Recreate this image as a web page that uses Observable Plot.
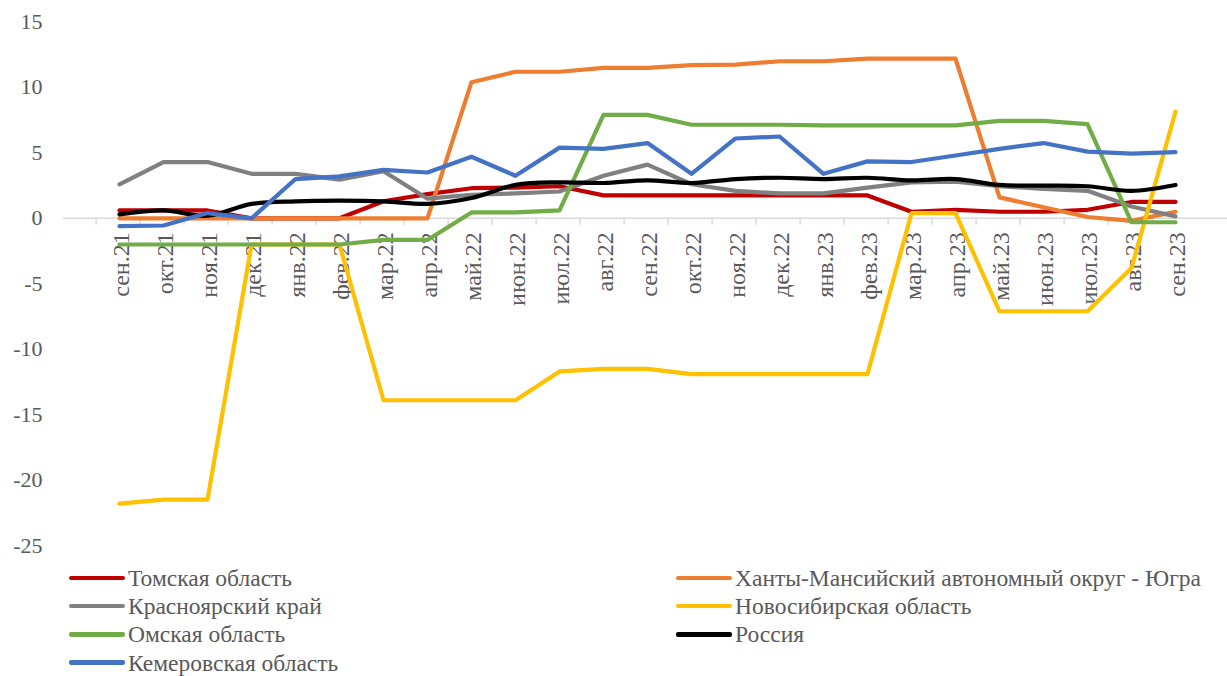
<!DOCTYPE html>
<html>
<head>
<meta charset="utf-8">
<script src="https://cdn.jsdelivr.net/npm/d3@7"></script>
<script src="https://cdn.jsdelivr.net/npm/@observablehq/plot@0.6"></script>
<style>
  html, body { margin: 0; padding: 0; background: #fff; }
  body { font-family: "Liberation Serif", "Times New Roman", serif; width: 1227px; height: 676px; overflow: hidden; }
  #legend { position: relative; height: 116px; color: #595959; font-size: 23.5px; line-height: 24px; }
  .item { position: absolute; display: flex; align-items: center; height: 26px; white-space: nowrap; }
  .sw { width: 56px; height: 4.5px; border-radius: 2px; margin-right: 3px; flex: none; }
</style>
</head>
<body>
<div id="chart"></div>
<div id="legend"></div>
<script>
const months = ["сен.21","окт.21","ноя.21","дек.21","янв.22","фев.22","мар.22","апр.22","май.22","июн.22","июл.22","авг.22","сен.22","окт.22","ноя.22","дек.22","янв.23","фев.23","мар.23","апр.23","май.23","июн.23","июл.23","авг.23","сен.23"];

const tomsk      = [0.6, 0.6, 0.6, 0.0, 0.0, 0.0, 1.3, 1.85, 2.3, 2.35, 2.45, 1.75, 1.75, 1.75, 1.75, 1.75, 1.75, 1.75, 0.5, 0.65, 0.5, 0.5, 0.65, 1.25, 1.25];
const khmao      = [0.0, 0.0, 0.0, 0.0, 0.0, 0.0, 0.0, 0.0, 10.4, 11.2, 11.2, 11.5, 11.5, 11.7, 11.75, 12.0, 12.0, 12.2, 12.2, 12.2, 1.6, 0.85, 0.1, -0.2, 0.5];
const krasnoyarsk= [2.6, 4.3, 4.3, 3.4, 3.4, 2.95, 3.6, 1.5, 1.8, 1.9, 2.05, 3.25, 4.1, 2.6, 2.1, 1.9, 1.9, 2.35, 2.75, 2.8, 2.45, 2.25, 2.1, 0.9, 0.15];
const novosib    = [-21.8, -21.5, -21.5, -2.0, -2.0, -2.0, -13.9, -13.9, -13.9, -13.9, -11.7, -11.5, -11.5, -11.9, -11.9, -11.9, -11.9, -11.9, 0.4, 0.4, -7.1, -7.1, -7.1, -3.8, 8.15];
const omsk       = [-2.0, -2.0, -2.0, -2.0, -2.0, -2.0, -1.65, -1.65, 0.45, 0.45, 0.6, 7.9, 7.9, 7.15, 7.15, 7.15, 7.1, 7.1, 7.1, 7.1, 7.45, 7.45, 7.2, -0.3, -0.3];
const russia     = [0.3, 0.6, 0.2, 1.1, 1.3, 1.35, 1.3, 1.1, 1.55, 2.55, 2.75, 2.7, 2.9, 2.7, 3.0, 3.1, 3.0, 3.1, 2.9, 3.0, 2.55, 2.5, 2.45, 2.1, 2.55];
const kemerovo   = [-0.6, -0.55, 0.4, 0.0, 3.0, 3.2, 3.7, 3.5, 4.7, 3.25, 5.4, 5.3, 5.75, 3.4, 6.1, 6.25, 3.4, 4.35, 4.3, 4.8, 5.3, 5.75, 5.1, 4.95, 5.05];

const seriesNames = ["Томская область","Ханты-Мансийский автономный округ - Югра","Красноярский край","Новосибирская область","Омская область","Россия","Кемеровская область"];
const seriesValues = [tomsk, khmao, krasnoyarsk, novosib, omsk, russia, kemerovo];
const seriesColors = ["#C00000","#ED7D31","#808080","#FFC000","#70AD47","#000000","#4472C4"];
const seriesCurves = ["linear","linear","linear","linear","linear","catmull-rom","linear"];
const yTicks = [-25,-20,-15,-10,-5,0,5,10,15];

const data = seriesNames.flatMap((name, s) => months.map((m, i) => ({series: name, month: m, value: seriesValues[s][i]})));

const lineMarks = seriesNames.map((name, s) =>
  Plot.line(data.filter(d => d.series === name), {
    x: "month", y: "value", stroke: seriesColors[s], strokeWidth: 4.2,
    curve: seriesCurves[s], strokeLinejoin: "round", strokeLinecap: "round"
  })
);

const chart = Plot.plot({
  width: 1227, height: 560,
  marginLeft: 63, marginRight: 0, marginTop: 0, marginBottom: 0,
  style: {fontFamily: "'Liberation Serif','Times New Roman',serif", background: "#fff"},
  x: {type: "point", domain: months, range: [86, 1208], axis: null},
  y: {domain: [-25, 15], range: [545, 21.5]},
  marks: [
    Plot.axisY(yTicks, {tickSize: 0, tickPadding: 21, fontSize: 22, color: "#595959", label: null, tickFormat: d => String(d)}),
    Plot.ruleY([0], {stroke: "#d9d9d9", strokeWidth: 1.5}),
    Plot.ruleX(months, {x: d => d, y1: () => 0, y2: () => 0, dx: -23.4, insetBottom: -7, stroke: "#d9d9d9", strokeWidth: 1.5}),
    Plot.text(months, {x: d => d, y: () => 0, text: d => d, rotate: -90, textAnchor: "end", dx: 1.5, dy: 14, fontSize: 24, fill: "#595959"}),
    ...lineMarks
  ]
});
document.getElementById("chart").appendChild(chart);

const legend = document.getElementById("legend");
const colX = [69, 676];
seriesNames.forEach((name, i) => {
  const col = i < 6 ? i % 2 : 0;
  const row = Math.floor(i / 2);
  const el = document.createElement("div");
  el.className = "item";
  el.style.left = colX[col] + "px";
  el.style.top = (5 + row * 28.2) + "px";
  const sw = document.createElement("span");
  sw.className = "sw";
  sw.style.background = seriesColors[i];
  const tx = document.createElement("span");
  tx.textContent = name;
  el.appendChild(sw); el.appendChild(tx);
  legend.appendChild(el);
});
</script>
</body>
</html>
